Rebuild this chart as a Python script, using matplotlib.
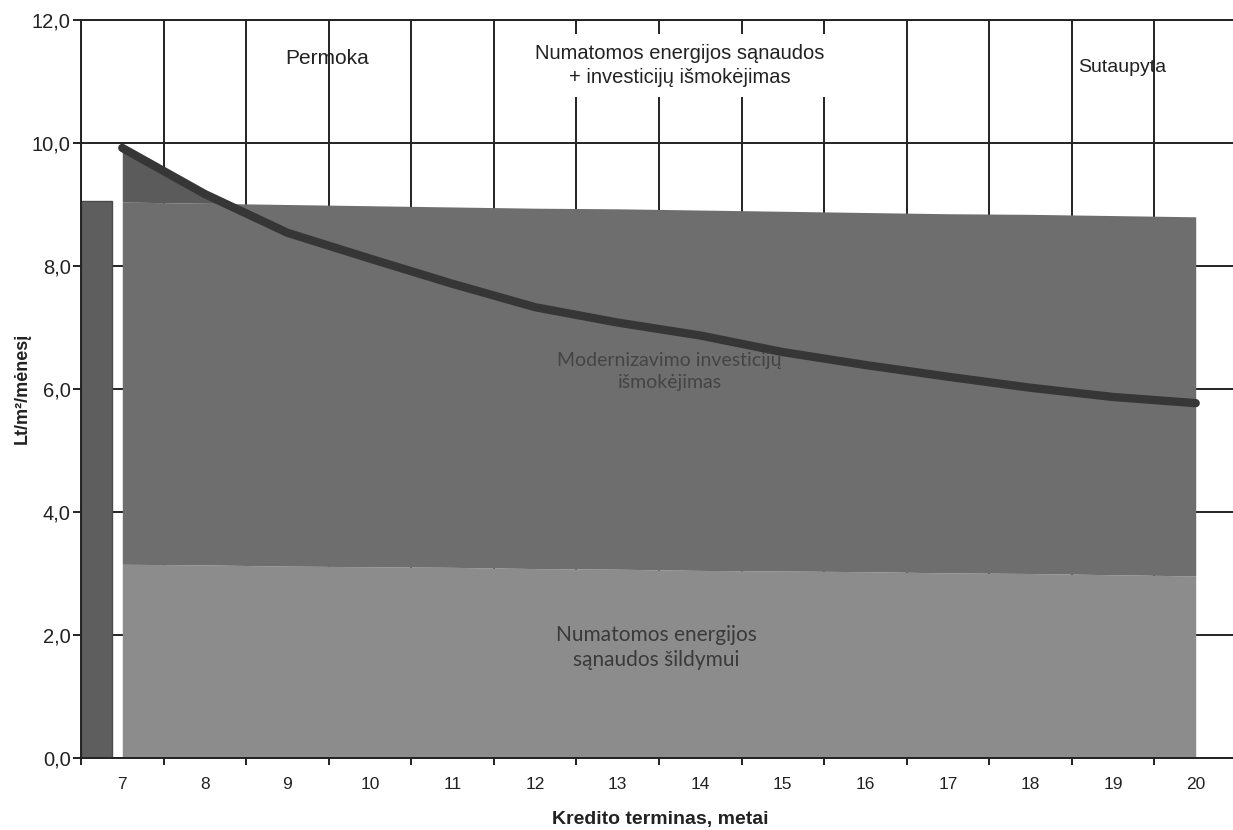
import matplotlib
matplotlib.use("Agg")
import matplotlib.pyplot as plt
from matplotlib.ticker import FixedLocator, FuncFormatter

# credit term, years
years = [7, 8, 9, 10, 11, 12, 13, 14, 15, 16, 17, 18, 19, 20]
energy = [3.15, 3.14, 3.12, 3.11, 3.10, 3.08, 3.07, 3.05, 3.04, 3.03, 3.01, 3.00, 2.98, 2.96]
investment = [5.89, 5.88, 5.88, 5.87, 5.86, 5.86, 5.86, 5.86, 5.85, 5.84, 5.84, 5.84, 5.84, 5.84]
total_payment = [9.92, 9.17, 8.54, 8.12, 7.71, 7.33, 7.08, 6.87, 6.60, 6.39, 6.20, 6.02, 5.87, 5.77]
current_cost = 9.05

y_ticks = [0, 2, 4, 6, 8, 10, 12]

plt.rcParams["font.family"] = ["Liberation Sans", "DejaVu Sans"]

W, H = 1233, 830
fig = plt.figure(figsize=(W / 100, H / 100), dpi=100)
x_left, x_right = 81, 1237
y_bottom, y_top = 758, 20
ax = fig.add_axes([x_left / W, 1 - y_bottom / H, (x_right - x_left) / W, (y_bottom - y_top) / H])
ax.set_xlim(6.5, 20.5)
ax.set_ylim(0, 12)

# stacked areas
stack_top = [e + i for e, i in zip(energy, investment)]
ax.fill_between(years, 0, energy, color="#8c8c8c", lw=0, zorder=2)
ax.fill_between(years, energy, stack_top, color="#6e6e6e", lw=0, zorder=2)
ax.fill_between(years, stack_top, total_payment,
                where=[t > s for t, s in zip(total_payment, stack_top)],
                interpolate=True, color="#5b5b5b", lw=0, zorder=2)

# current situation bar
ax.bar([6.5], [current_cost], width=0.38, align="edge", color="#5e5e5e",
       edgecolor="#4a4a4a", lw=1, zorder=2)

ax.plot(years, total_payment, color="#363636", lw=6, solid_capstyle="round",
        solid_joinstyle="round", zorder=3)

# axes styling
ax.spines["right"].set_visible(False)
for side in ["left", "bottom", "top"]:
    ax.spines[side].set_linewidth(1.4)
    ax.spines[side].set_color("#222222")
ax.spines["top"].set_zorder(1)

boundaries = [y - 0.5 for y in years] + [20.5]
ax.xaxis.set_major_locator(FixedLocator(boundaries))
ax.xaxis.set_minor_locator(FixedLocator(years))
ax.xaxis.set_major_formatter(FuncFormatter(lambda v, p: ""))
ax.xaxis.set_minor_formatter(FuncFormatter(lambda v, p: f"{int(round(v))}"))
ax.tick_params(axis="x", which="major", length=5, width=1.4, color="#222222", direction="out")
ax.tick_params(axis="x", which="minor", length=0, pad=14, labelsize=12.5, labelcolor="#222222")

ax.yaxis.set_major_locator(FixedLocator(y_ticks))
ax.yaxis.set_major_formatter(FuncFormatter(lambda v, p: f"{v:.1f}".replace(".", ",")))
ax.tick_params(axis="y", length=6, width=1.4, color="#222222", pad=1.5, labelsize=14.5,
               labelcolor="#222222")

ax.set_axisbelow(True)
ax.grid(True, which="major", color="#222222", lw=1.4, zorder=0)

# region labels
ax.text(9.48, 11.38, "Permoka", fontsize=15, ha="center", va="center", color="#222222", zorder=4)
ax.text(13.75, 11.26, "Numatomos energijos sąnaudos\n+ investicijų išmokėjimas",
        fontsize=14.5, ha="center", va="center", linespacing=1.35, color="#222222", zorder=4,
        bbox=dict(facecolor="white", edgecolor="none", pad=7))
ax.text(19.11, 11.22, "Sutaupyta", fontsize=14, ha="center", va="center", color="#222222", zorder=4)
ax.text(13.63, 6.28, "Modernizavimo investicijų\nišmokėjimas", family=["Lato", "DejaVu Sans"],
        fontsize=14, ha="center", va="center", linespacing=1.35, color="#444444", zorder=4)
ax.text(13.47, 1.80, "Numatomos energijos\nsąnaudos šildymui", family=["Lato", "DejaVu Sans"],
        fontsize=15, ha="center", va="center", linespacing=1.3, color="#3a3a3a", zorder=4)

fig.text(660 / W, 1 - 819 / H, "Kredito terminas, metai", fontsize=14, fontweight="bold",
         ha="center", va="center", color="#222222")
fig.text(22 / W, 1 - 388 / H, "Lt/m²/mėnesį", fontsize=13, fontweight="bold",
         rotation=90, ha="center", va="center", color="#222222")

fig.savefig("out.png", dpi=100, facecolor="white")
